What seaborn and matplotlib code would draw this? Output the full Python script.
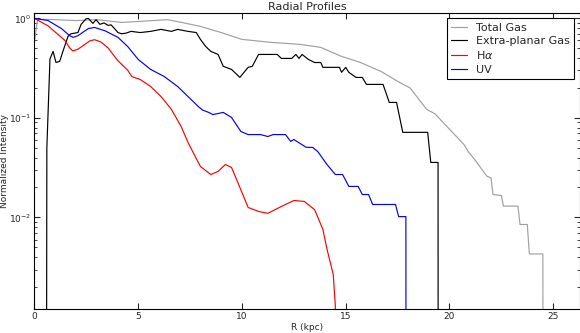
import numpy as np
import pandas as pd
import seaborn as sns
import matplotlib
matplotlib.use("Agg")
import matplotlib.pyplot as plt

# --- data (R in kpc, normalized intensity) ---
gas_r = [0.0, 0.15, 0.5, 1.0, 2.0, 3.0, 4.2, 5.0, 6.4, 7.1, 8.0, 9.0, 10.0, 11.4,
         12.8, 13.8, 14.8, 15.7, 16.7, 17.6, 18.1, 18.9, 19.3, 20.0, 20.7, 20.9,
         21.2, 21.8, 22.0, 22.1, 22.5, 22.6, 23.3, 23.4, 23.75, 23.85, 24.5, 24.52]
gas_i = [0.57, 0.97, 0.98, 0.97, 0.95, 0.97, 0.91, 0.93, 0.97, 0.91, 0.83, 0.72,
         0.615, 0.574, 0.548, 0.511, 0.415, 0.361, 0.293, 0.227, 0.2, 0.122, 0.11,
         0.077, 0.054, 0.046, 0.0385, 0.026, 0.025, 0.017, 0.0166, 0.013, 0.013,
         0.0085, 0.0085, 0.0043, 0.0043, 1e-6]

ext_r = [0.57, 0.6, 0.75, 0.9, 1.04, 1.22, 1.35, 1.62, 1.76, 2.1, 2.25, 2.49, 2.6,
         2.82, 2.97, 3.16, 3.35, 3.55, 3.7, 3.88, 4.03, 4.2, 4.41, 4.66, 5.1, 5.6,
         6.1, 6.6, 6.9, 7.4, 7.8, 8.0, 8.25, 8.5, 8.85, 9.1, 9.5, 9.9, 10.1, 10.3,
         10.5, 10.8, 11.7, 11.9, 12.4, 12.6, 12.75, 12.9, 13.2, 13.5, 13.8, 13.9,
         14.7, 14.8, 15.0, 15.15, 15.5, 15.8, 16.0, 16.8, 17.1, 17.45, 17.75,
         18.95, 19.1, 19.45, 19.46]
ext_i = [1e-6, 0.05, 0.39, 0.466, 0.36, 0.37, 0.45, 0.66, 0.7, 0.72, 0.87, 0.99,
         1.0, 0.89, 0.97, 0.87, 0.9, 0.85, 0.86, 0.78, 0.72, 0.7, 0.71, 0.74, 0.72,
         0.74, 0.775, 0.74, 0.775, 0.74, 0.72, 0.615, 0.523, 0.466, 0.434, 0.33,
         0.307, 0.255, 0.287, 0.322, 0.33, 0.434, 0.434, 0.396, 0.396, 0.434,
         0.396, 0.434, 0.387, 0.36, 0.36, 0.322, 0.322, 0.287, 0.322, 0.287,
         0.255, 0.255, 0.217, 0.217, 0.143, 0.143, 0.0716, 0.0716, 0.0357,
         0.0357, 1e-6]

ha_r = [0.0, 0.66, 1.47, 1.7, 1.85, 2.1, 2.67, 2.9, 3.2, 3.55, 4.0, 4.5, 4.7, 5.1,
        5.6, 6.1, 6.6, 7.07, 7.4, 8.0, 8.5, 8.85, 9.2, 9.5, 9.8, 10.3, 10.8,
        11.25, 11.9, 12.5, 13.0, 13.5, 13.9, 14.1, 14.4, 14.5, 14.52]
ha_i = [1.0, 0.84, 0.6, 0.505, 0.47, 0.49, 0.594, 0.61, 0.58, 0.505, 0.38, 0.3,
        0.26, 0.243, 0.207, 0.164, 0.122, 0.082, 0.0567, 0.0325, 0.027, 0.029,
        0.034, 0.0318, 0.0225, 0.0126, 0.0115, 0.011, 0.0129, 0.0148, 0.0145,
        0.012, 0.0076, 0.0048, 0.00267, 0.0013, 1e-5]

uv_r = [0.0, 0.66, 1.3, 1.7, 1.87, 2.1, 2.6, 2.9, 3.4, 4.03, 4.5, 5.0, 5.6, 6.25,
        6.9, 7.4, 7.9, 8.1, 8.4, 8.6, 9.1, 9.5, 9.95, 10.3, 10.9, 11.25, 11.5,
        12.1, 12.35, 12.5, 12.65, 13.1, 13.4, 13.65, 14.1, 14.5, 14.85, 15.15,
        15.6, 15.8, 16.1, 16.3, 17.4, 17.55, 17.9, 17.91]
uv_i = [1.0, 0.95, 0.79, 0.67, 0.644, 0.67, 0.79, 0.81, 0.75, 0.644, 0.52, 0.387,
        0.307, 0.261, 0.207, 0.164, 0.13, 0.12, 0.1135, 0.108, 0.1135, 0.101,
        0.073, 0.068, 0.068, 0.065, 0.068, 0.068, 0.058, 0.0608, 0.058, 0.0506,
        0.0506, 0.046, 0.034, 0.027, 0.027, 0.0205, 0.0205, 0.017, 0.017, 0.0135,
        0.0135, 0.0102, 0.0102, 1e-6]

series = [
    ("Total Gas", gas_r, gas_i, "#a0a0a0"),
    ("Extra-planar Gas", ext_r, ext_i, "black"),
    (r"H$\alpha$", ha_r, ha_i, "red"),
    ("UV", uv_r, uv_i, "blue"),
]

sns.set_style("ticks")
plt.rcParams.update({
    "font.family": ["DejaVu Sans"],
    "xtick.direction": "in", "ytick.direction": "in",
    "xtick.top": True, "ytick.right": True,
    "xtick.major.size": 4, "ytick.major.size": 4,
    "xtick.minor.size": 2, "ytick.minor.size": 2,
    "xtick.major.pad": 2, "ytick.major.pad": 2,
    "xtick.labelsize": 6.5, "ytick.labelsize": 6.5,
    "axes.edgecolor": "black", "axes.linewidth": 0.8,
})

fig = plt.figure(figsize=(5.8, 3.33), dpi=100)
ax = fig.add_axes([0.0593, 0.0706, 0.9400, 0.8913])

for name, r, vals, col in series:
    df = pd.DataFrame({"R": r, "I": vals})
    sns.lineplot(data=df, x="R", y="I", ax=ax, color=col, label=name,
                 estimator=None, sort=False, lw=0.85)

ax.set_yscale("log")
ax.set_xlim(0, 26.27)
ax.set_ylim(0.00119, 1.14)
ax.set_xticks([0, 5, 10, 15, 20, 25])
ax.set_title("Radial Profiles", fontsize=8, pad=2)
ax.set_xlabel("R (kpc)", fontsize=6.5, labelpad=1)
ax.set_ylabel("Normalized Intensity", fontsize=6.5, labelpad=0)

leg = ax.legend(loc="upper right", fontsize=8, frameon=True, fancybox=False,
                edgecolor="black", framealpha=1, handlelength=1.4,
                labelspacing=0.3, borderaxespad=0.5)
leg.get_frame().set_linewidth(0.8)

fig.savefig("out.png", dpi=100)
